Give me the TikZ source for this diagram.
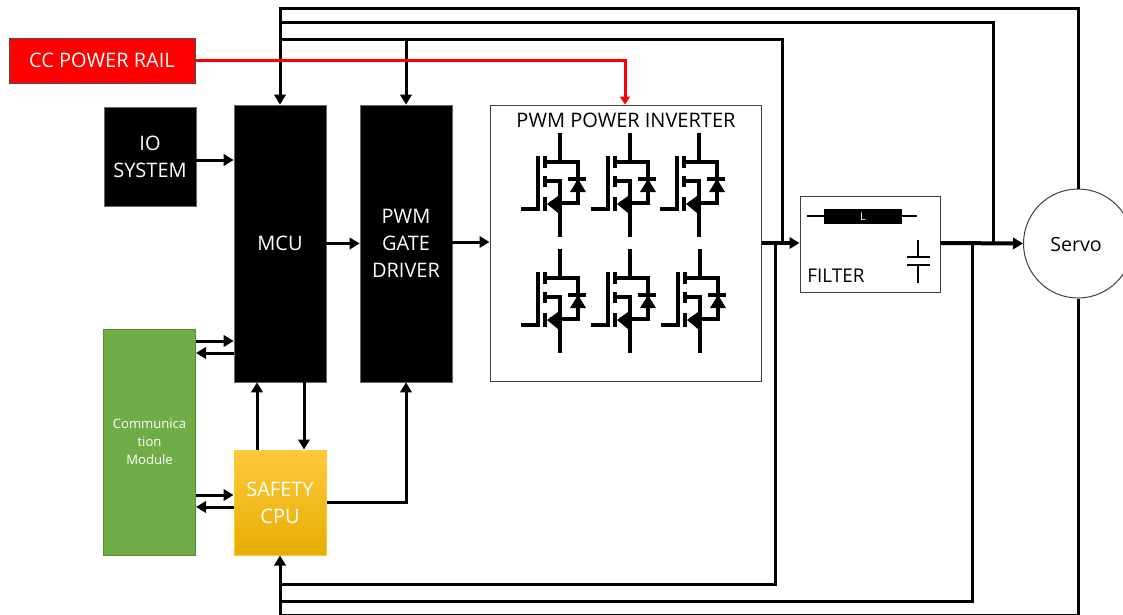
\documentclass[tikz,border=0pt]{standalone}
\usepackage{fontspec}
\setmainfont{Open Sans}
\usetikzlibrary{arrows.meta}
\def\u{0.75pt}
\definecolor{railred}{HTML}{FF0000}
\definecolor{commgreen}{HTML}{70AD47}
\definecolor{boxedge}{HTML}{404040}
\definecolor{safetop}{HTML}{FFC93C}
\definecolor{safemid}{HTML}{FFC000}
\definecolor{safebot}{HTML}{E6AE00}
\tikzset{
  blk/.style={draw=black!60,line width=0.5pt,fill=black,text=white,inner sep=0pt,align=center,font=\fontsize{15}{20.25}\selectfont},
  plain/.style={draw=boxedge,line width=0.75pt,fill=white,inner sep=0pt,align=center},
  conn/.style={line width=2.25pt,draw=black},
  heavy/.style={line width=3pt,draw=black},
  tip/.style={-{Triangle[length=7.5pt,width=8.5pt]}},
  rail/.style={line width=2.25pt,draw=railred,-{Triangle[length=6pt,width=7.5pt]}},
  part/.style={line width=2.3pt,draw=black},
  mosfet/.pic={
    \draw[part] (0,0) -- (0,29);
    \draw[part] (-15,29) -- (18,29) -- (18,70) -- (-10,70);
    \draw[part] (-39,76) -- (-22,76) -- (-22,23);
    \draw[part] (-15,23) -- (-15,35) (-15,43) -- (-15,54) (-15,64) -- (-15,78);
    \draw[part] (-15,48) -- (0,48) -- (0,104);
    \draw[part] (8,46) -- (26,46);
    \fill (-13,71) -- (-2,63) -- (-2,80) -- cycle;
    \fill (18,46) -- (10,59) -- (26,59) -- cycle;
  }
}
\begin{document}
\begin{tikzpicture}[x=0.75pt,y=-0.75pt]
\useasboundingbox (0,0) rectangle (1123,614);
\clip (0,0) rectangle (1123,614);

% boxes
\node[draw=black!70,line width=0.75pt,fill=railred,text=white,inner sep=0pt,minimum width=186*\u,minimum height=45*\u,font=\fontsize{15}{18}\selectfont] (rail) at (102,60.5) {CC POWER RAIL};
\node[blk,minimum width=92*\u,minimum height=99*\u] (io) at (150,156.5) {IO\\SYSTEM};
\node[blk,minimum width=92*\u,minimum height=277*\u] (mcu) at (280,243.5) {MCU};
\node[blk,minimum width=92*\u,minimum height=277*\u] (gate) at (406,243.5) {PWM\\GATE\\DRIVER};
\node[plain,minimum width=271*\u,minimum height=276*\u] (inv) at (625.5,243) {};
\node[font=\fontsize{15}{18}\selectfont,inner sep=0pt] (invlabel) at (626,120) {PWM POWER INVERTER};
\node[plain,minimum width=140*\u,minimum height=96*\u] (filter) at (870,244) {};
\node[font=\fontsize{14.2}{16}\selectfont,inner sep=0pt,anchor=west] (filterlabel) at (807,276) {FILTER};
\node[draw=boxedge,line width=0.75pt,fill=white,circle,inner sep=0pt,minimum size=109*\u] (servo) at (1078,243.5) {};
\node[font=\fontsize{14.7}{16}\selectfont,inner sep=0pt] (servolabel) at (1076,244) {Servo};
\node[draw=commgreen!80!black,line width=0.75pt,fill=commgreen,text=white,inner sep=0pt,align=center,minimum width=92*\u,minimum height=226*\u,font=\fontsize{9.8}{13.5}\selectfont] (comm) at (149.5,442) {Communica\\tion\\Module};
\node[draw=safetop,line width=0.75pt,top color=safetop,middle color=safemid,bottom color=safebot,text=white,inner sep=0pt,align=center,minimum width=92*\u,minimum height=105*\u,font=\fontsize{15}{20.25}\selectfont] (safety) at (280,502.5) {SAFETY\\CPU};

% bus junctions
\coordinate (busA) at (280,8);
\coordinate (busBr) at (993,22.5);
\coordinate (busB) at (280,22.5);
\coordinate (busCr) at (782,39);
\coordinate (busC) at (280,39);
\coordinate (gateTap) at (406,39);
\coordinate (invOut) at (782,243);
\coordinate (lowTap) at (775,243);
\coordinate (filtTap) at (972,243);
\coordinate (busBj) at (993,243);
\coordinate (lowA) at (280,584);
\coordinate (lowB) at (280,601);
\coordinate (lowC) at (280,615);

% feedback buses
\draw[conn,tip] (servo.north) |- (busA) -- (mcu.north);
\draw[conn] (busBj) -- (busBr) -- (busB);
\draw[conn] (invOut) -- (busCr) -- (busC);
\draw[conn,tip] (gateTap) -- (gate.north);
\draw[conn,tip] (servo.south) |- (lowC) -- (safety.south);
\draw[conn] (filtTap) |- (lowB);
\draw[conn] (lowTap) |- (lowA);

% signal flow
\draw[conn,tip] (io.east |- 0,160) -- (mcu.west |- 0,160);
\draw[conn,tip] (mcu.east) -- (gate.west);
\draw[conn,tip] (gate.east |- 0,242) -- (inv.west |- 0,242);
\draw[heavy,tip] (inv.east |- 0,243) -- (filter.west |- 0,243);
\draw[heavy,tip] (filter.east |- 0,243) -- (servo.west);
\draw[conn,tip] (comm.east |- 0,341) -- (mcu.west |- 0,341);
\draw[conn,tip] (mcu.west |- 0,353) -- (comm.east |- 0,353);
\draw[conn,tip] (comm.east |- 0,495) -- (safety.west |- 0,495);
\draw[conn,tip] (safety.west |- 0,507) -- (comm.east |- 0,507);
\draw[conn,tip] (safety.north -| 257,0) -- (mcu.south -| 257,0);
\draw[conn,tip] (mcu.south -| 304,0) -- (safety.north -| 304,0);
\draw[conn,tip] (safety.east |- 0,502) -| (gate.south);

% power rail
\draw[rail] (rail.east |- 0,60) -| (inv.north -| 625,0);

% inverter switches
\foreach \px/\py in {560/133,630/133,699/133,560/249,630/249,700/249}{
  \pic at (\px,\py) {mosfet};
}

% filter parts
\draw[line width=1.5pt] (807,216) -- (917,216);
\node[fill=black,text=white,inner sep=0pt,minimum width=78*\u,minimum height=15*\u,font=\fontsize{8}{8}\selectfont] (ind) at (863,216.5) {L};
\draw[line width=1.5pt] (918,240) -- (918,257) (907,257) -- (930,257) (907,265) -- (930,265) (918,265) -- (918,283);
\end{tikzpicture}
\end{document}
